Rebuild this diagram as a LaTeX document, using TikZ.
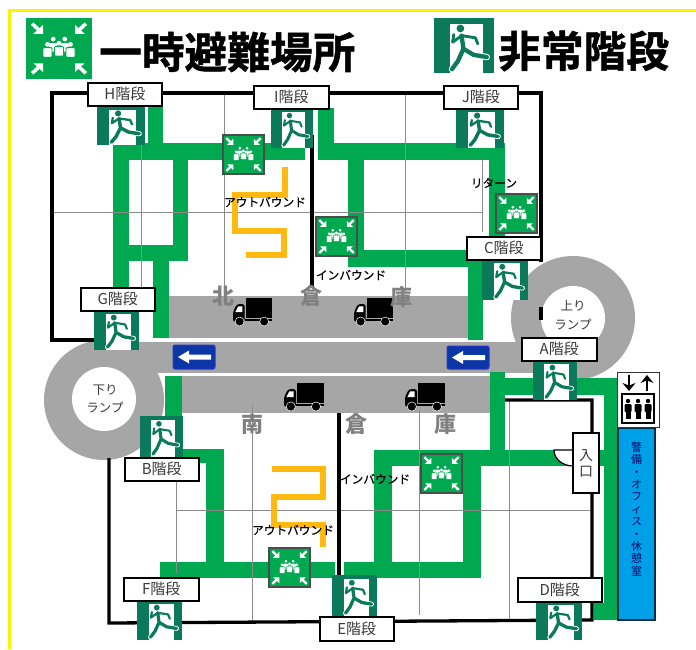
\documentclass[tikz,border=0pt]{standalone}
\usepackage{fontspec}
\setmainfont{Noto Sans CJK JP}
\newfontfamily\heavyf[FakeBold=1.2]{Noto Sans CJK JP Bold}
\newfontfamily\medf[FakeBold=0.35]{Noto Sans CJK JP}
\usetikzlibrary{arrows.meta}
\definecolor{routegreen}{HTML}{00A94F}
\definecolor{exitdark}{HTML}{0B7A5A}
\definecolor{roadgray}{HTML}{A6A6A6}
\definecolor{gridgray}{HTML}{8C8C8C}
\definecolor{routeorange}{HTML}{FFB90F}
\definecolor{signblue}{HTML}{0A36A6}
\definecolor{roomblue}{HTML}{00A0E9}
\definecolor{labelink}{HTML}{3A3A3A}
\tikzset{
  route/.style={fill=routegreen,draw=none},
  road/.style={fill=roadgray,draw=none},
  grid line/.style={draw=gridgray,line width=0.9pt},
  wall/.style={draw=black,line width=3.3pt,line join=miter},
  outflow/.style={draw=routeorange,line width=5.2pt,line join=miter},
  stair tag/.style={draw=black,fill=white,line width=1.6pt,inner sep=0pt,text=labelink,font=\fontsize{15}{15}\selectfont},
  flow text/.style={text=black,inner sep=0pt,font=\fontsize{11.7}{12}\selectfont\medf},
  ware text/.style={text=gray,inner sep=0pt,font=\fontsize{22}{24}\selectfont\bfseries},
  ramp text/.style={text=labelink,inner sep=0pt,align=center,font=\fontsize{12.5}{18.5}\selectfont},
}
\newcommand{\exitmark}[4]{%
  \pgfmathsetmacro{\ww}{#3-#1}\pgfmathsetmacro{\hh}{#4-#2}
  \begin{scope}[shift={(#1,#2)},x=\ww pt,y=-\hh pt,line cap=round,line join=round]
    \fill[exitdark] (0,0) rectangle (1,1);
    \fill[white] (.26,.1) rectangle (.82,1);
    \foreach \cc/\ee in {white/1.5,exitdark/1}{
      \draw[\cc,line width=\ee*.072*\ww pt]
        (.46,.32) -- (.49,.56) (.49,.56) -- (.66,.67) -- (.88,.71)
        (.49,.56) -- (.4,.78) -- (.3,.93);
      \draw[\cc,line width=\ee*.048*\ww pt]
        (.46,.32) -- (.69,.36) -- (.73,.47) (.46,.32) -- (.31,.44) -- (.33,.3);
    }
    \fill[exitdark] (.44,.19) circle[radius=.065*\ww pt];
  \end{scope}}
\newcommand{\gathermark}[5]{%
  \pgfmathsetmacro{\ww}{#3-#1}\pgfmathsetmacro{\hh}{#4-#2}
  \begin{scope}[shift={(#1,#2)},x=\ww pt,y=-\hh pt]
    \filldraw[fill=routegreen,draw=#5,line width=1.1pt] (0,0) rectangle (1,1);
    \foreach \sx in {-1,1}{\foreach \sy in {-1,1}{
      \draw[white,line width=.055*\ww pt] (.5+\sx*.42,.5+\sy*.42) -- (.5+\sx*.32,.5+\sy*.32);
      \fill[white] (.5+\sx*.25,.5+\sy*.25) -- (.5+\sx*.4,.5+\sy*.25) -- (.5+\sx*.25,.5+\sy*.4) -- cycle;
    }}
    \foreach \px/\py in {.41/.34,.59/.34,.32/.43,.68/.43,.5/.41}{
      \filldraw[fill=white,draw=routegreen,line width=.014*\ww pt,rounded corners=.015*\ww pt] (\px-.07,\py+.055) rectangle (\px+.07,\py+.22);
      \fill[white] (\px,\py) circle[radius=.037*\ww pt];
    }
  \end{scope}}
\newcommand{\truckmark}[4]{%
  \pgfmathsetmacro{\ww}{#3-#1}\pgfmathsetmacro{\hh}{#4-#2}
  \begin{scope}[shift={(#1,#2)},x=\ww pt,y=-\hh pt]
    \fill[black] (.33,0) rectangle (1,.7);
    \fill[black] (.31,.74) rectangle (1,.82);
    \fill[black,rounded corners=.06*\ww pt] (.3,.22) -- (.1,.22) -- (0,.5) -- (0,.85) -- (.3,.85) -- cycle;
    \fill[white] (.13,.3) -- (.24,.3) -- (.24,.5) -- (.06,.5) -- cycle;
    \foreach \wx in {.17,.8}{
      \filldraw[fill=black,draw=white,line width=.5pt] (\wx,.84) circle[radius=.115*\ww pt];
    }
  \end{scope}}
\newcommand{\oneway}[4]{%
  \filldraw[fill=signblue,draw=blue!60!gray,line width=1pt,rounded corners=2pt] (#1,#2) rectangle (#3,#4);
  \pgfmathsetmacro{\my}{(#2+#4)/2}\pgfmathsetmacro{\lx}{#1+5}\pgfmathsetmacro{\hx}{#1+16}\pgfmathsetmacro{\rx}{#3-4}
  \fill[white] (\lx,\my) -- (\hx,\my-6.5) -- (\hx,\my-2.5) -- (\rx,\my-2.5) -- (\rx,\my+2.5) -- (\hx,\my+2.5) -- (\hx,\my+6.5) -- cycle;}
\newcommand{\stairtag}[6]{%
  \node[stair tag,minimum width=#3 pt-#1 pt,minimum height=#4 pt-#2 pt,anchor=north west] (#5) at (#1,#2) {#6};}
\begin{document}
\begin{tikzpicture}[x=1pt,y=-1pt]
\useasboundingbox (0,0) rectangle (696,649);
\fill[white] (0,0) rectangle (696,649);
% yellow frame
\draw[draw=yellow,line width=3pt] (9,649) -- (9,10.5) -- (696,10.5);
% header
\gathermark{27}{19}{91}{78}{routegreen}
\node[anchor=west,inner sep=0pt,font=\fontsize{42.7}{44}\selectfont\heavyf] (titlea) at (99,52) {一時避難場所};
\exitmark{434}{18}{494}{73}
\node[anchor=west,inner sep=0pt,font=\fontsize{42.7}{44}\selectfont\heavyf] (titleb) at (498,51) {非常階段};
% roads
\fill[road] (169,296) rectangle (468,338);
\fill[road] (182,376) rectangle (490,413);
\fill[road] (104,342) rectangle (573,373);
\fill[road] (573,318) circle[radius=62pt];
\fill[road] (104,400) circle[radius=60pt];
\fill[white] (573,318) circle[radius=32pt];
\fill[white] (104,399) circle[radius=32pt];
\fill[white] (160,373) rectangle (490,376);
% routes north
\fill[route] (148,105) rectangle (163,160);
\fill[route] (113,143) rectangle (305,160);
\fill[route] (113,143) rectangle (129,300);
\fill[route] (173,160) rectangle (188,261);
\fill[route] (113,245) rectangle (188,261);
\fill[route] (153,261) rectangle (169,338);
\fill[route] (318,108) rectangle (334,160);
\fill[route] (318,143) rectangle (505,160);
\fill[route] (348,143) rectangle (364,267);
\fill[route] (348,250) rectangle (483,267);
\fill[route] (489,143) rectangle (505,240);
\fill[route] (468,250) rectangle (483,340);
% routes south
\fill[route] (165,376) rectangle (182,420);
\fill[route] (182,449) rectangle (224,463);
\fill[route] (206,449) rectangle (224,562);
\fill[route] (160,562) rectangle (335,578);
\fill[route] (344,562) rectangle (481,578);
\fill[route] (374,450) rectangle (392,578);
\fill[route] (463,450) rectangle (481,578);
\fill[route] (374,450) rectangle (618,466);
\fill[route] (490,372) rectangle (505,466);
\fill[route] (505,378) rectangle (618,395);
\fill[route] (604,378) rectangle (618,620);
\fill[route] (594,603) rectangle (618,620);
% grid
\draw[grid line] (141,93) -- (141,292);
\draw[grid line] (224,93) -- (224,292);
\draw[grid line] (405,93) -- (405,292);
\draw[grid line] (482,160) -- (482,232);
\draw[grid line] (52,212) -- (482,212);
\draw[grid line] (176,460) -- (176,573);
\draw[grid line] (252,405) -- (252,620);
\draw[grid line] (419,410) -- (419,615);
\draw[grid line] (509,400) -- (509,620);
\draw[grid line] (176,510) -- (592,510);
% walls
\draw[wall] (95,340) -- (52,340) -- (52,93) -- (541,93) -- (541,262);
\draw[wall] (541,307) -- (541,320);
\draw[wall] (312,135) -- (312,287);
\draw[wall] (109,458) -- (109,623) -- (592,620) -- (592,400) -- (505,400);
\draw[wall] (339,413) -- (339,575);
% orange paths
\draw[outflow] (285,167) -- (285,195) -- (235,195) -- (235,231) -- (284,231) -- (284,255) -- (246,255);
\draw[outflow] (272,469) -- (323,469) -- (323,497) -- (274,497) -- (274,525) -- (323,525) -- (323,547);
% one-way signs
\oneway{173}{345}{215}{369}
\oneway{447}{346}{489}{369}
% trucks
\truckmark{233}{298}{272}{326}
\truckmark{354}{298}{393}{326}
\truckmark{284}{383}{324}{411}
\truckmark{405}{383}{445}{411}
% warehouse names
\node[ware text] (n1) at (223,296) {北};
\node[ware text] (n2) at (311,296) {倉};
\node[ware text] (n3) at (401,297) {庫};
\node[ware text] (s1) at (252,424) {南};
\node[ware text] (s2) at (356,424) {倉};
\node[ware text] (s3) at (445,424) {庫};
% ramps text
\node[ramp text] (up) at (573,315) {上り\\ランプ};
\node[ramp text] (down) at (105,399) {下り\\ランプ};
% exit signs
\exitmark{97}{106}{145}{145}
\exitmark{271}{108}{313}{148}
\exitmark{456}{108}{504}{148}
\exitmark{482}{259}{528}{300}
\exitmark{94}{310}{139}{350}
\exitmark{533}{360}{577}{400}
\exitmark{140}{416}{183}{457}
\exitmark{137}{600}{182}{640}
\exitmark{332}{575}{377}{616}
\exitmark{536}{601}{582}{640}
% gathering signs
\gathermark{223}{135}{264}{174}{black!70}
\gathermark{316}{217}{357}{256}{black!70}
\gathermark{496}{194}{537}{233}{black!70}
\gathermark{421}{454}{462}{493}{black!70}
\gathermark{269}{548}{310}{587}{black!70}
% flow labels
\node[flow text] (ob1) at (265,202) {アウトバウンド};
\node[flow text] (ib1) at (351,275) {インバウンド};
\node[flow text] (ret) at (494,183) {リターン};
\node[flow text] (ob2) at (293,530) {アウトバウンド};
\node[flow text] (ib2) at (375,479) {インバウンド};
% stair tags
\stairtag{87}{82}{161}{105}{tagH}{H階段}
\stairtag{253}{85}{328}{108}{tagI}{I階段}
\stairtag{443}{85}{517}{108}{tagJ}{J階段}
\stairtag{466}{236}{540}{259}{tagC}{C階段}
\stairtag{80}{287}{154}{310}{tagG}{G階段}
\stairtag{521}{337}{596}{360}{tagA}{A階段}
\stairtag{124}{457}{198}{480}{tagB}{B階段}
\stairtag{123}{577}{198}{600}{tagF}{F階段}
\stairtag{319}{616}{393}{640}{tagE}{E階段}
\stairtag{517}{577}{601}{601}{tagD}{D階段}
% door and entrance
\filldraw[fill=white,draw=black,line width=1.2pt] (574,450) -- (554,450) arc[start angle=180,end angle=270,x radius=19pt,y radius=16pt] -- cycle;
\node[draw=black,fill=white,line width=1.2pt,inner sep=0pt,minimum width=26pt,minimum height=60pt,align=center,text=labelink,font=\fontsize{14}{16}\selectfont] (entry) at (586,463) {入\\口};
% elevator
\node[draw=roomblue!30!black,fill=roomblue,line width=1.3pt,minimum width=37pt,minimum height=192pt,inner sep=0pt] (room) at (636.5,524) {};
\node[inner sep=0pt,align=center,text=blue!40!black,font=\fontsize{11}{12.4}\selectfont] (roomtext) at (636.5,509) {警\\備\\・\\オ\\フ\\ィ\\ス\\・\\休\\憩\\室};
\node[draw=black!80,fill=white,line width=1pt,minimum width=42pt,minimum height=55pt,inner sep=0pt] (lift) at (638,399.5) {};
\coordinate (dna) at (629,375);\coordinate (dnb) at (629,391);
\coordinate (upa) at (647,391);\coordinate (upb) at (647,375);
\draw[black,line width=2.4pt,-{Stealth[length=8pt,width=13pt]}] (dna) -- (dnb);
\draw[black,line width=2.4pt,-{Stealth[length=8pt,width=13pt]}] (upa) -- (upb);
\draw[black,line width=2.4pt] (622,394) rectangle (654,423);
\foreach \ex in {628,638,648}{
  \fill[black] (\ex,401) circle[radius=2.2pt];
  \fill[black,rounded corners=1pt] (\ex-3.5,404) rectangle (\ex+3.5,412);
  \fill[black] (\ex-2.5,411) rectangle (\ex+2.5,419);
}
\end{tikzpicture}
\end{document}
